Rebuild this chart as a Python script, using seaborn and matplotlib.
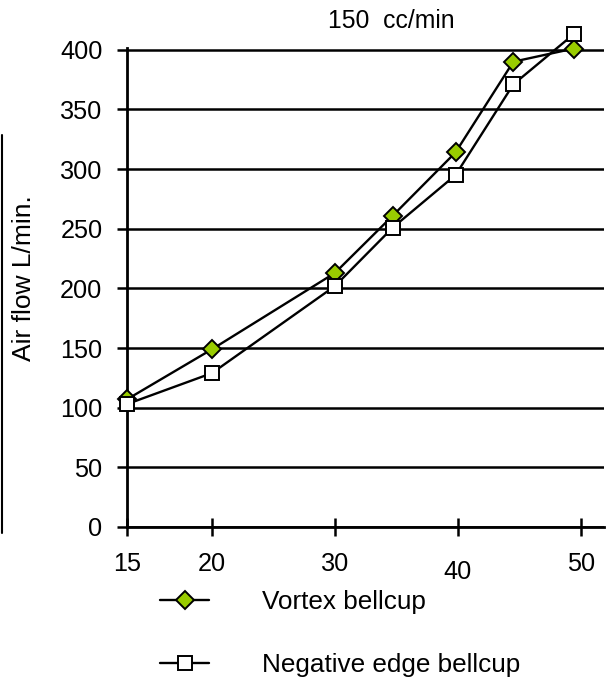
import numpy as np
import pandas as pd
import matplotlib
matplotlib.use("Agg")
import matplotlib.pyplot as plt
from matplotlib.lines import Line2D
import seaborn as sns

# ---- data ----
flow_cc = [15, 20, 30, 34.7, 39.8, 44.5, 49.4]
vortex = [107, 149, 213, 261, 314, 390, 401]
negative = [103, 129, 202, 251, 295, 371, 413]
x_ticks = [15, 20, 30, 40, 50]
x_tick_labels = ["15", "20", "30", "40", "50"]
y_ticks = [0, 50, 100, 150, 200, 250, 300, 350, 400]
series_names = ["Vortex bellcup", "Negative edge bellcup"]
title_text = "150  cc/min"
ylabel_text = "Air flow L/min."

sns.set_theme(style="white")
plt.rcParams["font.family"] = ["Liberation Sans", "DejaVu Sans"]
FS = 18.2
FS_TITLE = 17.8
FS_BIG = 18.8

df_v = pd.DataFrame({"x": flow_cc, "y": vortex})
df_n = pd.DataFrame({"x": flow_cc, "y": negative})

fig = plt.figure(figsize=(6.06, 6.81), dpi=100)
W, H = 606, 681
ax = fig.add_axes([127 / W, 1 - 527 / H, (604 - 127) / W, (527 - 48) / H])

# axis compressed below 20 as in the reference
K = 1.382
def fwd(v):
    v = np.asarray(v, dtype=float)
    return np.where(v < 20, 20 - (20 - v) * K, v)
def inv(v):
    v = np.asarray(v, dtype=float)
    return np.where(v < 20, 20 - (20 - v) / K, v)
ax.set_xscale("function", functions=(fwd, inv))

D_STYLE = dict(marker="D", markersize=9, markerfacecolor="#99cc00",
               markeredgecolor="black", markeredgewidth=1.4)
S_STYLE = dict(marker="s", markersize=10, markerfacecolor="white",
               markeredgecolor="black", markeredgewidth=1.4)

sns.lineplot(data=df_v, x="x", y="y", ax=ax, color="black", linewidth=1.7,
             label=series_names[0], legend=False, zorder=3, clip_on=False,
             **D_STYLE)
sns.lineplot(data=df_n, x="x", y="y", ax=ax, color="black", linewidth=1.7,
             label=series_names[1], legend=False, zorder=4, clip_on=False,
             **S_STYLE)

ax.set_xlim(15, 51.87)
ax.set_ylim(0, 401.5)
ax.set_xticks(x_ticks)
ax.set_xticklabels(x_tick_labels)
ax.set_yticks(y_ticks)
ax.set_xlabel("")
ax.set_ylabel("")

for s in ["top", "right"]:
    ax.spines[s].set_visible(False)
for s in ["left", "bottom"]:
    ax.spines[s].set_color("black")
    ax.spines[s].set_linewidth(2)

ax.grid(False)
ax.yaxis.grid(True, color="black", linewidth=1.8)
ax.set_axisbelow(True)
ax.tick_params(axis="y", direction="out", length=7.2, width=1.8, color="black",
               labelsize=FS, pad=10.5, left=True)
ax.tick_params(axis="x", direction="inout", length=13, width=1.8, color="black",
               labelsize=FS, pad=11.5, bottom=True)
for lab in ax.get_xticklabels() + ax.get_yticklabels():
    lab.set_color("black")
# the "40" label sits a little lower in the reference
ax.xaxis.get_major_ticks()[3].set_pad(17)

fig.text(391.5 / W, 1 - 21 / H, title_text, ha="center", va="center",
         fontsize=FS_TITLE, color="black")
fig.text(24 / W, 1 - 278 / H, ylabel_text, ha="center", va="center",
         rotation=90, fontsize=19, color="black")

# thin border line at the left edge of the reference
fig.add_artist(Line2D([1.5 / W, 1.5 / W], [1 - 135 / H, 1 - 533 / H],
                      transform=fig.transFigure, color="black", linewidth=1.5))

handles = [
    Line2D([], [], color="black", linewidth=1.7, **D_STYLE),
    Line2D([], [], color="black", linewidth=1.7, **S_STYLE),
]
fig.legend(handles, series_names, loc="upper left",
           bbox_to_anchor=(160 / W, 1 - 590 / H), frameon=False,
           fontsize=FS_BIG, handlelength=1.88, handletextpad=2.02, labelspacing=1.5,
           borderpad=0, borderaxespad=0, labelcolor="black")

fig.savefig("out.png", dpi=100)
